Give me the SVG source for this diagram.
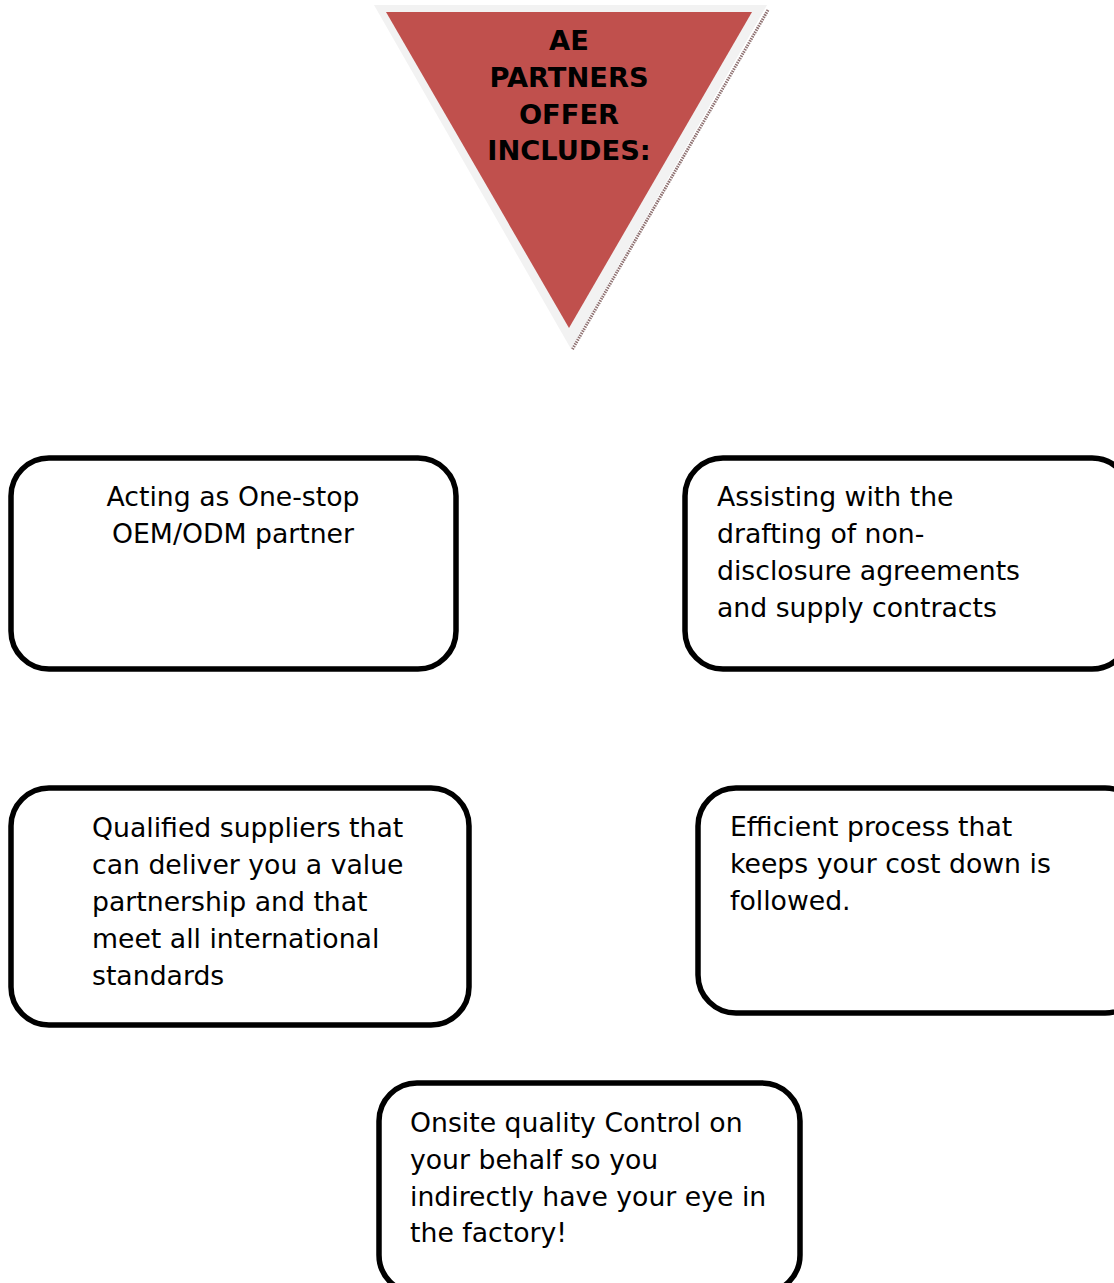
<svg xmlns="http://www.w3.org/2000/svg" width="1114" height="1283" viewBox="0 0 1114 1283">
<style>
.box{fill:#ffffff;stroke:#000000;stroke-width:5.5}
.t{font-family:"DejaVu Sans","Verdana",sans-serif;font-size:26.7px;fill:#000000}
.h{font-family:"DejaVu Sans","Verdana",sans-serif;font-size:27.3px;font-weight:bold;fill:#000000;text-anchor:middle}
</style>
<rect width="1114" height="1283" fill="#ffffff"/>
<g id="title">
<polygon points="374,5 767,5 571,349" fill="#f2f2f2"/>
<line x1="768" y1="10" x2="572" y2="350" stroke="#8f7272" stroke-width="3" stroke-dasharray="1.5,1"/>
<polygon points="386,12 752,12 569,328" fill="#c0504d"/>
<text class="h" x="569" y="50">AE</text>
<text class="h" x="569" y="87">PARTNERS</text>
<text class="h" x="569" y="124">OFFER</text>
<text class="h" x="569" y="160">INCLUDES:</text>
</g>
<g id="connectors"></g>
<g id="node1">
<rect class="box" x="11" y="458" width="445" height="211" rx="38"/>
<text class="t" x="233" y="506" text-anchor="middle">Acting as One-stop</text>
<text class="t" x="233" y="543" text-anchor="middle">OEM/ODM partner</text>
</g>
<g id="node2">
<rect class="box" x="685" y="458" width="445" height="211" rx="38"/>
<text class="t" x="717" y="506">Assisting with the</text>
<text class="t" x="717" y="543">drafting of non-</text>
<text class="t" x="717" y="580">disclosure agreements</text>
<text class="t" x="717" y="617">and supply contracts</text>
</g>
<g id="node3">
<rect class="box" x="11" y="788" width="458" height="237" rx="38"/>
<text class="t" x="92" y="837">Qualified suppliers that</text>
<text class="t" x="92" y="874">can deliver you a value</text>
<text class="t" x="92" y="911">partnership and that</text>
<text class="t" x="92" y="948">meet all international</text>
<text class="t" x="92" y="985">standards</text>
</g>
<g id="node4">
<rect class="box" x="698" y="788" width="445" height="225" rx="38"/>
<text class="t" x="730" y="836">Efficient process that</text>
<text class="t" x="730" y="873">keeps your cost down is</text>
<text class="t" x="730" y="910">followed.</text>
</g>
<g id="node5">
<rect class="box" x="379" y="1083" width="421" height="210" rx="38"/>
<text class="t" x="410" y="1132">Onsite quality Control on</text>
<text class="t" x="410" y="1169">your behalf so you</text>
<text class="t" x="410" y="1206">indirectly have your eye in</text>
<text class="t" x="410" y="1242">the factory!</text>
</g>
</svg>
